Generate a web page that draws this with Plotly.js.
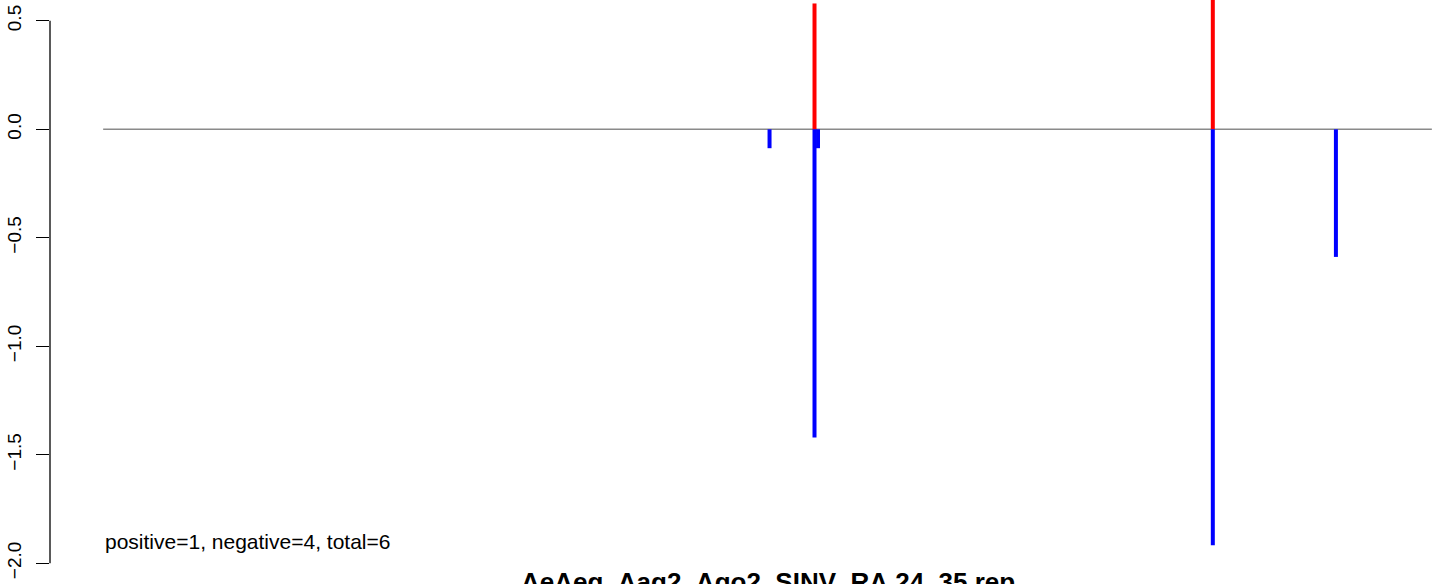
<!DOCTYPE html>
<html>
<head>
<meta charset="utf-8">
<script src="https://cdn.plot.ly/plotly-3.0.1.min.js"></script>
<style>
html, body { margin: 0; padding: 0; overflow: hidden; background: #ffffff; }
#chart { width: 1500px; height: 620px; }
</style>
</head>
<body>
<div id="chart"></div>
<script>
// Genome positions of the lines and their values
var positivePositions = [6266, 9774];
var positiveValues = [0.58, 0.65];
var negativePositions = [5870, 6266, 6297, 9774, 10858];
var negativeValues = [-0.087, -1.42, -0.087, -1.917, -0.588];
var baselineRange = [1, 11703];
var yTickValues = [0.5, 0.0, -0.5, -1.0, -1.5, -2.0];
var chartTitle = "AeAeg_Aag2_Ago2_SINV_RA.24_35.rep";
var countLabel = "positive=1, negative=4, total=6";

function stems(xs, ys) {
  var x = [], y = [];
  for (var i = 0; i < xs.length; i++) {
    x.push(xs[i], xs[i], null);
    y.push(0, ys[i], null);
  }
  return {x: x, y: y};
}

var pos = stems(positivePositions, positiveValues);
var neg = stems(negativePositions, negativeValues);

var span = baselineRange[1] - baselineRange[0];
var xr = [baselineRange[0] - 0.04 * span, baselineRange[1] + 0.04 * span];

var traces = [
  {x: baselineRange, y: [0, 0], mode: 'lines', line: {color: '#8a8a8a', width: 1.6}, hoverinfo: 'skip'},
  {x: pos.x, y: pos.y, mode: 'lines', line: {color: '#ff0000', width: 4}, connectgaps: false},
  {x: neg.x, y: neg.y, mode: 'lines', line: {color: '#0000ff', width: 4}, connectgaps: false}
];

var layout = {
  width: 1500, height: 620,
  margin: {l: 50, r: 14.5, t: 0, b: 52},
  paper_bgcolor: '#ffffff', plot_bgcolor: '#ffffff',
  showlegend: false,
  font: {family: 'Liberation Sans, Arial, sans-serif', color: '#000000'},
  xaxis: {range: xr, visible: false, showgrid: false, zeroline: false},
  yaxis: {
    range: [-2.0217, 0.596],
    tickvals: yTickValues, tickformat: '.1f',
    ticks: 'outside', ticklen: 13, tickwidth: 1.3, tickcolor: '#000000',
    tickangle: -90, tickfont: {size: 19, family: 'Liberation Sans, Arial, sans-serif', color: '#000000'},
    ticklabelstandoff: 7,
    showline: false, showgrid: false, zeroline: false
  },
  shapes: [
    {type: 'line', xref: 'paper', x0: 0, x1: 0, yref: 'y', y0: yTickValues[yTickValues.length - 1], y1: yTickValues[0],
     line: {color: '#000000', width: 1.3}}
  ],
  annotations: [
    {xref: 'x', yref: 'y', x: baselineRange[0], y: -1.9, text: countLabel, showarrow: false,
     xanchor: 'left', yanchor: 'middle', font: {size: 21, color: '#000000'}},
    {xref: 'paper', yref: 'paper', x: 0.5, y: 0, yshift: 3, text: '<b>' + chartTitle + '</b>', showarrow: false,
     xanchor: 'center', yanchor: 'top', font: {size: 26, color: '#000000'}}
  ]
};

Plotly.newPlot('chart', traces, layout, {displayModeBar: false, staticPlot: true});
</script>
</body>
</html>
